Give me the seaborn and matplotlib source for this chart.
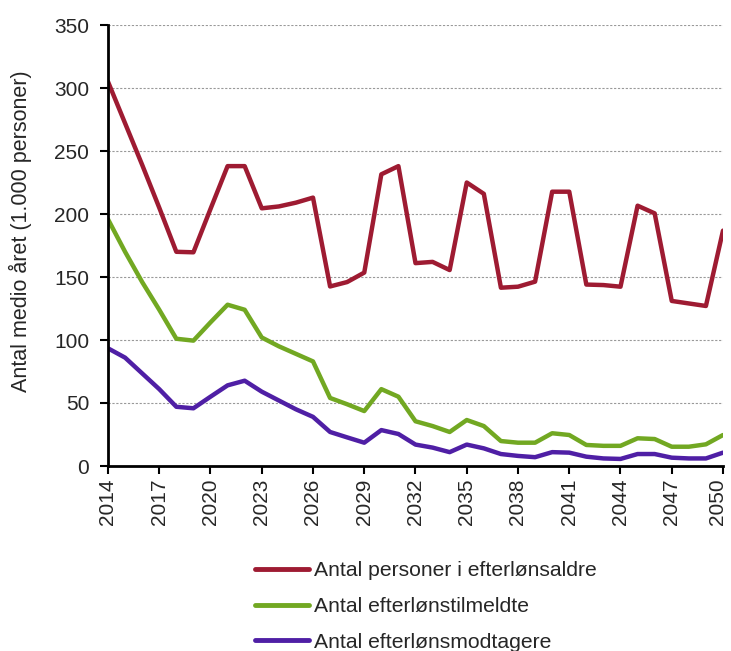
import numpy as np
import pandas as pd
import matplotlib
matplotlib.use("Agg")
import matplotlib.pyplot as plt
import matplotlib.transforms as mtransforms
import seaborn as sns

years = list(range(2014, 2051))
personer = [305, 272, 239, 205, 170, 169.6, 204, 238, 238, 204.5, 206, 209, 213,
            142.5, 146, 153.5, 231.5, 238, 161, 162, 155.5, 225, 216, 141.5, 142.3,
            146.3, 217.7, 217.7, 144, 143.6, 142.3, 206.6, 200.5, 131, 129, 127, 186.8]
tilmeldte = [195.8, 170, 146, 124, 101, 99.5, 114, 128, 124, 102, 95, 89, 83,
             54, 49, 43.6, 61, 55, 35.5, 31.7, 27, 36.5, 31.7, 19.8, 18.5,
             18.5, 26, 24.6, 16.7, 16, 16, 22, 21.4, 15.3, 15.3, 17.2, 24.6]
modtagere = [93.4, 86, 73.5, 61, 47, 45.8, 55, 64, 67.7, 59, 52, 45, 39,
             27, 22.7, 18.5, 28.5, 25.4, 17, 14.6, 11, 17, 14, 9.5, 8,
             7, 11, 10.6, 7.4, 6, 5.6, 9.5, 9.5, 6.6, 6, 6, 10.6]
series_names = ["Antal personer i efterlønsaldre", "Antal efterlønstilmeldte",
                "Antal efterlønsmodtagere"]
colors = ["#9E1B32", "#72A822", "#4F1FA5"]
xticks = list(range(2014, 2051, 3))
yticks = list(range(0, 351, 50))
ylabel = "Antal medio året (1.000 personer)"

df = pd.concat([
    pd.DataFrame({"år": years, "værdi": vals, "serie": name})
    for name, vals in zip(series_names, [personer, tilmeldte, modtagere])
])

sns.set_style("white")
plt.rcParams["font.family"] = ["Liberation Sans", "DejaVu Sans"]

fig = plt.figure(figsize=(7.31, 6.51), dpi=100)
ax = fig.add_axes([108 / 731, (651 - 466) / 651, (723 - 108) / 731, (466 - 25) / 651])

sns.lineplot(data=df, x="år", y="værdi", hue="serie", palette=colors,
             hue_order=series_names, linewidth=3.2, ax=ax, legend=True)

ax.set_xlim(2014, 2050)
ax.set_ylim(0, 350)
ax.set_xticks(xticks)
ax.set_xticklabels([str(t) for t in xticks], rotation=90, fontsize=15)
ax.set_yticks(yticks)
ax.set_yticklabels([str(t) for t in yticks], fontsize=15)
ax.set_xlabel("")
ax.set_ylabel(ylabel, fontsize=15.5)
ax.yaxis.set_label_coords(-0.124, 0.532)

ax.yaxis.grid(True, color="#999999", linestyle=(0, (2, 1.5)), linewidth=0.8)
ax.xaxis.grid(False)
ax.set_axisbelow(True)
for s in ["top", "right"]:
    ax.spines[s].set_visible(False)
for s in ["left", "bottom"]:
    ax.spines[s].set_color("black")
    ax.spines[s].set_linewidth(2)
ax.tick_params(axis="y", direction="out", length=6, width=1.5, color="black",
               left=True, pad=7.5)
ax.tick_params(axis="x", direction="out", length=6, width=1.5, color="black",
               bottom=True, pad=3)

# nudge the last x label so it stays inside the canvas
last = ax.get_xticklabels()[-1]
last.set_transform(last.get_transform() +
                   mtransforms.ScaledTranslation(-5 / 100, 0, fig.dpi_scale_trans))

h, l = ax.get_legend_handles_labels()
ax.get_legend().remove()
leg = fig.legend(h, l, loc="upper left", bbox_to_anchor=(255 / 731, (651 - 561) / 651),
                 frameon=False, fontsize=15.2, handlelength=2.55, handletextpad=0.24,
                 labelspacing=0.8, borderpad=0, borderaxespad=0)
for line in leg.get_lines():
    line.set_linewidth(3.5)

fig.savefig("out.png", dpi=100)
